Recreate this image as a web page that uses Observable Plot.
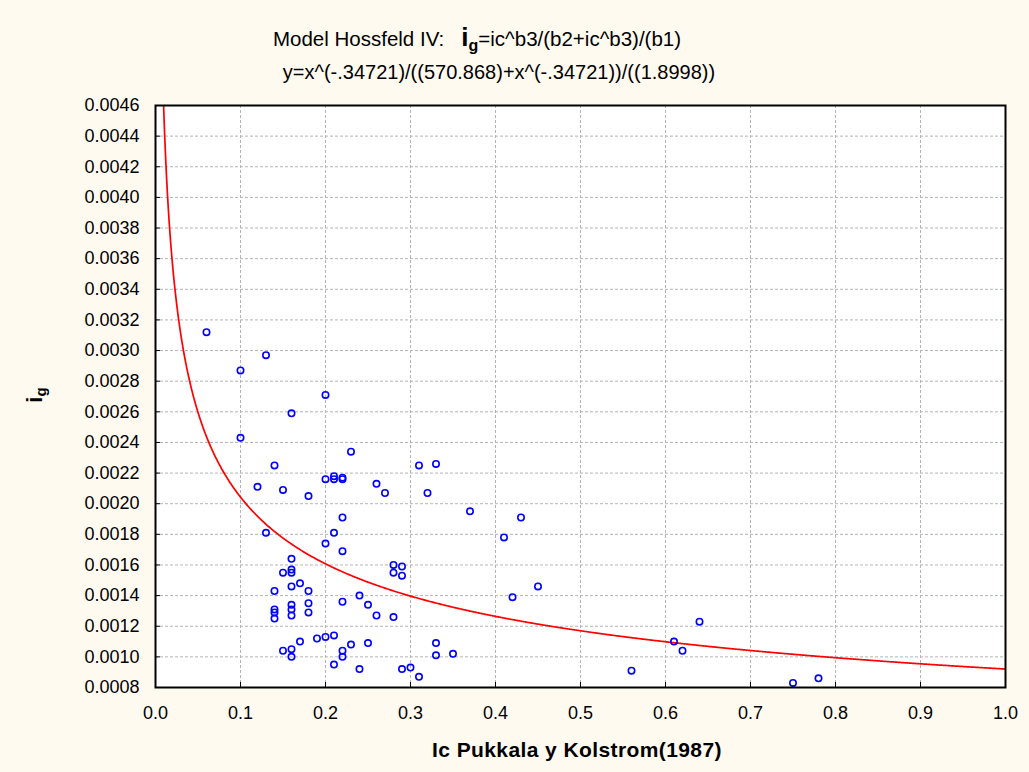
<!DOCTYPE html>
<html>
<head>
<meta charset="utf-8">
<script src="https://cdn.jsdelivr.net/npm/d3@7"></script>
<script src="https://cdn.jsdelivr.net/npm/@observablehq/plot@0.6"></script>
<style>
  html, body { margin: 0; padding: 0; background: #fffaf0; }
</style>
</head>
<body>
<div id="chart"></div>
<script>
// Observed data (ic, ig)
const icValues = [0.06,0.10,0.13,0.10,0.16,0.20,0.14,0.12,0.15,0.18,0.13,0.20,0.21,0.21,0.22,0.22,0.23,0.26,0.27,0.22,
  0.21,0.20,0.22,0.31,0.33,0.32,0.37,0.43,0.41,0.16,0.16,0.15,0.16,0.17,0.16,0.14,0.18,0.18,0.16,0.16,
  0.16,0.18,0.14,0.14,0.14,0.22,0.24,0.25,0.26,0.28,0.28,0.29,0.28,0.29,0.42,0.45,0.64,0.61,0.62,0.56,
  0.75,0.78,0.17,0.19,0.20,0.21,0.15,0.16,0.16,0.21,0.22,0.22,0.23,0.25,0.24,0.29,0.30,0.31,0.33,0.33,0.35];
const igValues = [0.00312,0.00287,0.00297,0.00243,0.00259,0.00271,0.00225,0.00211,0.00209,0.00205,0.00181,0.00216,0.00218,0.00216,0.00217,0.00216,0.00234,0.00213,0.00207,0.00191,
  0.00181,0.00174,0.00169,0.00225,0.00226,0.00207,0.00195,0.00191,0.00178,0.00164,0.00157,0.00155,0.00155,0.00148,0.00146,0.00143,0.00143,0.00135,0.00134,0.00131,
  0.00127,0.00129,0.00131,0.00129,0.00125,0.00136,0.00140,0.00134,0.00127,0.00126,0.00160,0.00159,0.00155,0.00153,0.00139,0.00146,0.00123,0.00110,0.00104,0.00091,
  0.00083,0.00086,0.00110,0.00112,0.00113,0.00114,0.00104,0.00105,0.00100,0.00095,0.00104,0.00100,0.00108,0.00109,0.00092,0.00092,0.00093,0.00087,0.00109,0.00101,0.00102];

// Model coefficients given in the chart title
const b1 = 1.8998, b2 = 570.868, b3 = -0.34721;

const xTicks = [0.0,0.1,0.2,0.3,0.4,0.5,0.6,0.7,0.8,0.9,1.0];
const yTicks = [0.0008,0.0010,0.0012,0.0014,0.0016,0.0018,0.0020,0.0022,0.0024,0.0026,0.0028,0.0030,0.0032,0.0034,0.0036,0.0038,0.0040,0.0042,0.0044,0.0046];

const points = icValues.map((x, i) => ({x, y: igValues[i]}));
const curve = d3.range(0.008, 1.0005, 0.001).map(x => ({x, y: Math.pow(x, b3) / (b2 + Math.pow(x, b3)) / b1}));

const W = 1029, H = 772, mL = 155, mR = 24, mT = 105, mB = 85;
const font = "'Liberation Sans', Arial, sans-serif";

const svg = Plot.plot({
  width: W, height: H,
  marginLeft: mL, marginRight: mR, marginTop: mT, marginBottom: mB,
  style: {background: "#fffaf0", fontFamily: font, fontSize: "18px", color: "black"},
  x: {domain: [0, 1]},
  y: {domain: [0.0008, 0.0046]},
  marks: [
    Plot.frame({fill: "white"}),
    Plot.gridX(xTicks, {stroke: "#b4b4b4", strokeOpacity: 1, strokeDasharray: "3,2"}),
    Plot.gridY(yTicks, {stroke: "#b4b4b4", strokeOpacity: 1, strokeDasharray: "3,2"}),
    Plot.line(curve, {x: "x", y: "y", stroke: "#ff0000", strokeWidth: 1.7, clip: true}),
    Plot.dot(points, {x: "x", y: "y", r: 3.2, stroke: "#0000ff", strokeWidth: 1.6, fill: "none"}),
    Plot.tickY(yTicks, {y: d => d, insetRight: W - mL - mR - 5, stroke: "black"}),
    Plot.tickX(xTicks, {x: d => d, insetTop: H - mT - mB - 5, stroke: "black"}),
    Plot.axisY({ticks: yTicks, tickFormat: d3.format(".4f"), tickSize: 0, tickPadding: 16, label: null}),
    Plot.axisX({ticks: xTicks, tickFormat: d3.format(".1f"), tickSize: 0, tickPadding: 19, label: null}),
    Plot.frame({stroke: "black", strokeWidth: 2})
  ]
});

const s = d3.select(svg);
// Title line 1
const t1 = s.append("text").attr("x", 477).attr("y", 46).attr("text-anchor", "middle")
  .attr("font-family", font).attr("font-size", 20.5).attr("fill", "black").style("white-space", "pre");
t1.append("tspan").text("Model Hossfeld IV:   ");
t1.append("tspan").attr("font-weight", "bold").attr("font-size", 26).text("i");
t1.append("tspan").attr("font-weight", "bold").attr("font-size", 16).attr("dy", 5).text("g");
t1.append("tspan").attr("dy", -5).text("=ic^b3/(b2+ic^b3)/(b1)");
// Title line 2
s.append("text").attr("x", 499).attr("y", 79).attr("text-anchor", "middle")
  .attr("font-family", font).attr("font-size", 20).attr("fill", "black")
  .text("y=x^(-.34721)/((570.868)+x^(-.34721))/((1.8998))");
// Y axis label
const yl = s.append("text").attr("transform", "translate(42,395) rotate(-90)").attr("text-anchor", "middle")
  .attr("font-family", font).attr("font-weight", "bold").attr("fill", "black");
yl.append("tspan").attr("font-size", 22).text("i");
yl.append("tspan").attr("font-size", 15).attr("dy", 4).text("g");
// X axis label
s.append("text").attr("x", 577).attr("y", 757).attr("text-anchor", "middle")
  .attr("font-family", font).attr("font-weight", "bold").attr("font-size", 21).attr("fill", "black")
  .attr("letter-spacing", "0.4")
  .text("Ic Pukkala y Kolstrom(1987)");

document.getElementById("chart").appendChild(svg);
</script>
</body>
</html>
